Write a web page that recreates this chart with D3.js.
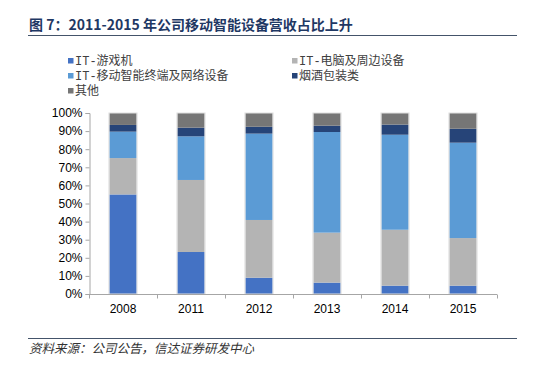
<!DOCTYPE html>
<html>
<head>
<meta charset="utf-8">
<script src="https://cdn.jsdelivr.net/npm/d3@7"></script>
<style>
  body { margin: 0; background: #fff; }
  svg { display: block; }
</style>
</head>
<body>
<div id="chart"></div>
<script>
// data (percent of revenue)
var years = ["2008", "2011", "2012", "2013", "2014", "2015"];
var seriesNames = ["IT-游戏机", "IT-电脑及周边设备", "IT-移动智能终端及网络设备", "烟酒包装类", "其他"];
var gameConsole = [55.0, 23.2, 9.0, 6.3, 4.6, 4.6];
var pcDevices = [20.1, 39.8, 31.9, 27.6, 30.9, 26.3];
var mobileDevices = [14.6, 24.1, 47.7, 55.6, 52.5, 52.7];
var packaging = [3.7, 4.8, 3.8, 3.5, 5.6, 7.7];
var others = [6.6, 8.1, 7.6, 7.0, 6.4, 8.7];
var yTicks = [0, 10, 20, 30, 40, 50, 60, 70, 80, 90, 100];

var colors = ["#4472C4", "#B4B4B4", "#5B9BD5", "#264478", "#767676"];
var allSeries = [gameConsole, pcDevices, mobileDevices, packaging, others];

var W = 544, H = 370;
var svg = d3.select("#chart").append("svg")
  .attr("width", W)
  .attr("height", H);

// title and rules
svg.append("text")
  .attr("x", 29).attr("y", 30)
  .attr("font-family", "'Noto Sans CJK SC', sans-serif")
  .attr("font-weight", "bold")
  .attr("font-size", 14)
  .attr("fill", "#1F3864")
  .text("图 7：2011-2015 年公司移动智能设备营收占比上升");

svg.append("line")
  .attr("x1", 28).attr("x2", 517).attr("y1", 35.5).attr("y2", 35.5)
  .attr("stroke", "#44546A").attr("stroke-width", 1);

svg.append("line")
  .attr("x1", 28).attr("x2", 517).attr("y1", 338.5).attr("y2", 338.5)
  .attr("stroke", "#44546A").attr("stroke-width", 1);

svg.append("text")
  .attr("x", 29).attr("y", 353)
  .attr("font-family", "'Noto Sans CJK SC', sans-serif")
  .attr("font-style", "italic")
  .attr("font-size", 12.5)
  .attr("fill", "#333")
  .text("资料来源：公司公告，信达证券研发中心");

// legend
var legendPos = [[68, 61], [292, 61], [68, 76], [292, 76], [68, 91]];
var legend = svg.append("g");
seriesNames.forEach(function (name, i) {
  var g = legend.append("g")
    .attr("transform", "translate(" + legendPos[i][0] + "," + legendPos[i][1] + ")");
  g.append("rect")
    .attr("x", 0).attr("y", -3)
    .attr("width", 5.5).attr("height", 5.5)
    .attr("fill", colors[i]);
  g.append("text")
    .attr("x", 7).attr("y", 0)
    .attr("dy", "0.35em")
    .attr("font-family", "'Liberation Mono', 'Noto Sans CJK SC', monospace")
    .attr("font-size", 12)
    .attr("fill", "#404040")
    .text(name);
});

// chart area
var margin = {left: 89, right: 47, top: 113, bottom: 76};
var width = W - margin.left - margin.right;
var height = H - margin.top - margin.bottom;

var plot = svg.append("g")
  .attr("transform", "translate(" + margin.left + "," + margin.top + ")");

var x = d3.scaleBand()
  .domain(years)
  .range([0, width])
  .paddingInner(0.6)
  .paddingOuter(0.3);

var y = d3.scaleLinear()
  .domain([0, 100])
  .range([height, 0]);

// stacked data
var table = years.map(function (yr, i) {
  var row = {year: yr};
  seriesNames.forEach(function (n, j) { row[n] = allSeries[j][i]; });
  return row;
});
var stacked = d3.stack().keys(seriesNames)(table);

plot.append("g")
  .selectAll("g")
  .data(stacked)
  .enter()
  .append("g")
    .attr("fill", function (d, i) { return colors[i]; })
  .selectAll("rect")
  .data(function (d) { return d; })
  .enter()
  .append("rect")
    .attr("x", function (d) { return x(d.data.year); })
    .attr("y", function (d) { return y(d[1]); })
    .attr("width", x.bandwidth())
    .attr("height", function (d) { return y(d[0]) - y(d[1]); });

// bar outline like the original
plot.append("g")
  .selectAll("rect")
  .data(table)
  .enter()
  .append("rect")
    .attr("x", function (d) { return x(d.year) - 0.5; })
    .attr("y", y(100))
    .attr("width", x.bandwidth() + 1)
    .attr("height", height)
    .attr("fill", "none")
    .attr("stroke", "#e0e0e0")
    .attr("stroke-width", 1);

// y axis
var yAxis = plot.append("g")
  .attr("transform", "translate(0.5,0)")
  .call(d3.axisLeft(y).tickValues(yTicks).tickSize(4).tickPadding(3)
    .tickFormat(function (d) { return d + "%"; }));
yAxis.select(".domain").attr("stroke", "#A6A6A6");
yAxis.selectAll(".tick line").attr("stroke", "#A6A6A6");
yAxis.selectAll("text")
  .attr("font-family", "'Liberation Sans', Arial, sans-serif")
  .attr("font-size", 12)
  .attr("fill", "#000");

// x axis with ticks at band edges
var xAxis = plot.append("g")
  .attr("transform", "translate(0," + (height + 0.5) + ")");
xAxis.append("line")
  .attr("x1", 0).attr("x2", width)
  .attr("stroke", "#A6A6A6");
var step = x.step();
xAxis.selectAll(".edge")
  .data(d3.range(0, years.length + 1))
  .enter()
  .append("line")
    .attr("class", "edge")
    .attr("x1", function (d) { return Math.round(d * step) + 0.5; })
    .attr("x2", function (d) { return Math.round(d * step) + 0.5; })
    .attr("y1", 0).attr("y2", 4)
    .attr("stroke", "#A6A6A6");
xAxis.selectAll(".lbl")
  .data(years)
  .enter()
  .append("text")
    .attr("class", "lbl")
    .attr("x", function (d) { return x(d) + x.bandwidth() / 2; })
    .attr("y", 18)
    .attr("text-anchor", "middle")
    .attr("font-family", "'Liberation Sans', Arial, sans-serif")
    .attr("font-size", 12)
    .attr("fill", "#000")
    .text(function (d) { return d; });
</script>
</body>
</html>
